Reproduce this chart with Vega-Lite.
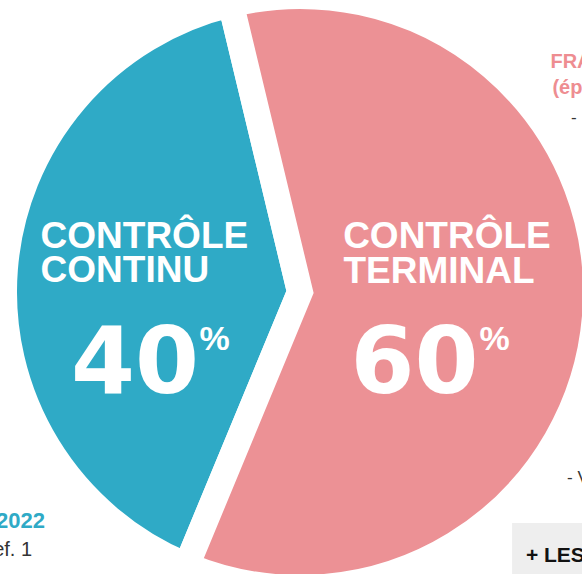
{
  "$schema": "https://vega.github.io/schema/vega-lite/v6.json",
  "width": 564,
  "height": 564,
  "autosize": {"type": "none"},
  "padding": {"left": 18, "top": 10, "right": 0, "bottom": 0},
  "background": "white",
  "config": {"view": {"stroke": null}},
  "layer": [
    {
      "data": {"values": [
        {"name": "CONTRÔLE CONTINU", "share": 40, "ord": 1},
        {"name": "CONTRÔLE TERMINAL", "share": 60, "ord": 2}
      ]},
      "mark": {"type": "arc", "radius": 296, "stroke": "white", "strokeWidth": 26, "strokeJoin": "miter"},
      "encoding": {
        "theta": {"field": "share", "type": "quantitative", "stack": true, "scale": {"range": [3.5343, 9.8175]}},
        "order": {"field": "ord", "type": "quantitative"},
        "color": {"field": "name", "type": "nominal", "legend": null,
          "scale": {"domain": ["CONTRÔLE CONTINU", "CONTRÔLE TERMINAL"], "range": ["#2faac6", "#ec9195"]}}
      }
    },
    {
      "data": {"values": [{"x0": 0.752, "x1": 1.1, "y0": -0.819, "y1": -1.1}]},
      "mark": {"type": "rect", "color": "#eeeeee"},
      "encoding": {
        "x": {"field": "x0", "type": "quantitative", "scale": {"domain": [-1, 1], "nice": false, "zero": false}, "axis": null},
        "x2": {"field": "x1"},
        "y": {"field": "y0", "type": "quantitative", "scale": {"domain": [-1, 1], "nice": false, "zero": false}, "axis": null},
        "y2": {"field": "y1"}
      }
    },
    {
      "data": {"values": [
        {"t": "CONTRÔLE", "x": -0.920, "y": 0.156},
        {"t": "CONTINU", "x": -0.920, "y": 0.0355},
        {"t": "CONTRÔLE", "x": 0.153, "y": 0.156},
        {"t": "TERMINAL", "x": 0.154, "y": 0.032}
      ]},
      "mark": {"type": "text", "align": "left", "baseline": "alphabetic", "font": "Liberation Sans", "fontWeight": "bold", "fontSize": 37, "color": "white"},
      "encoding": {
        "x": {"field": "x", "type": "quantitative", "scale": {"domain": [-1, 1], "nice": false, "zero": false}, "axis": null},
        "y": {"field": "y", "type": "quantitative", "scale": {"domain": [-1, 1], "nice": false, "zero": false}, "axis": null},
        "text": {"field": "t"}
      }
    },
    {
      "data": {"values": [
        {"t": "40", "x": -0.585, "y": -0.358},
        {"t": "60", "x": 0.406, "y": -0.358}
      ]},
      "mark": {"type": "text", "align": "center", "baseline": "alphabetic", "font": "DejaVu Sans", "fontWeight": "bold", "fontSize": 92, "color": "white"},
      "encoding": {
        "x": {"field": "x", "type": "quantitative", "scale": {"domain": [-1, 1], "nice": false, "zero": false}, "axis": null},
        "y": {"field": "y", "type": "quantitative", "scale": {"domain": [-1, 1], "nice": false, "zero": false}, "axis": null},
        "text": {"field": "t"}
      }
    },
    {
      "data": {"values": [
        {"t": "%", "x": -0.303, "y": -0.206},
        {"t": "%", "x": 0.690, "y": -0.206}
      ]},
      "mark": {"type": "text", "align": "center", "baseline": "alphabetic", "font": "Liberation Sans", "fontWeight": "bold", "fontSize": 34, "color": "white"},
      "encoding": {
        "x": {"field": "x", "type": "quantitative", "scale": {"domain": [-1, 1], "nice": false, "zero": false}, "axis": null},
        "y": {"field": "y", "type": "quantitative", "scale": {"domain": [-1, 1], "nice": false, "zero": false}, "axis": null},
        "text": {"field": "t"}
      }
    },
    {
      "data": {"values": [
        {"t": "FRANÇAIS", "x": 0.888, "y": 0.794},
        {"t": "(épreuve anticipée)", "x": 0.895, "y": 0.702}
      ]},
      "mark": {"type": "text", "align": "left", "baseline": "alphabetic", "font": "Liberation Sans", "fontWeight": "bold", "fontSize": 20, "color": "#ee8d91"},
      "encoding": {
        "x": {"field": "x", "type": "quantitative", "scale": {"domain": [-1, 1], "nice": false, "zero": false}, "axis": null},
        "y": {"field": "y", "type": "quantitative", "scale": {"domain": [-1, 1], "nice": false, "zero": false}, "axis": null},
        "text": {"field": "t"}
      }
    },
    {
      "data": {"values": [
        {"t": "-", "x": 0.961, "y": 0.599},
        {"t": "- V", "x": 0.947, "y": -0.677}
      ]},
      "mark": {"type": "text", "align": "left", "baseline": "alphabetic", "font": "Liberation Sans", "fontSize": 17, "color": "#333333"},
      "encoding": {
        "x": {"field": "x", "type": "quantitative", "scale": {"domain": [-1, 1], "nice": false, "zero": false}, "axis": null},
        "y": {"field": "y", "type": "quantitative", "scale": {"domain": [-1, 1], "nice": false, "zero": false}, "axis": null},
        "text": {"field": "t"}
      }
    },
    {
      "data": {"values": [{"t": "2022", "x": -0.904, "y": -0.837}]},
      "mark": {"type": "text", "align": "right", "baseline": "alphabetic", "font": "Liberation Sans", "fontWeight": "bold", "fontSize": 22, "color": "#2faac6"},
      "encoding": {
        "x": {"field": "x", "type": "quantitative", "scale": {"domain": [-1, 1], "nice": false, "zero": false}, "axis": null},
        "y": {"field": "y", "type": "quantitative", "scale": {"domain": [-1, 1], "nice": false, "zero": false}, "axis": null},
        "text": {"field": "t"}
      }
    },
    {
      "data": {"values": [{"t": "ef. 1", "x": -0.950, "y": -0.936}]},
      "mark": {"type": "text", "align": "right", "baseline": "alphabetic", "font": "Liberation Sans", "fontSize": 20, "color": "#333333"},
      "encoding": {
        "x": {"field": "x", "type": "quantitative", "scale": {"domain": [-1, 1], "nice": false, "zero": false}, "axis": null},
        "y": {"field": "y", "type": "quantitative", "scale": {"domain": [-1, 1], "nice": false, "zero": false}, "axis": null},
        "text": {"field": "t"}
      }
    },
    {
      "data": {"values": [{"t": "+ LES", "x": 0.801, "y": -0.957}]},
      "mark": {"type": "text", "align": "left", "baseline": "alphabetic", "font": "Liberation Sans", "fontWeight": "bold", "fontSize": 21, "color": "#111111"},
      "encoding": {
        "x": {"field": "x", "type": "quantitative", "scale": {"domain": [-1, 1], "nice": false, "zero": false}, "axis": null},
        "y": {"field": "y", "type": "quantitative", "scale": {"domain": [-1, 1], "nice": false, "zero": false}, "axis": null},
        "text": {"field": "t"}
      }
    }
  ]
}
